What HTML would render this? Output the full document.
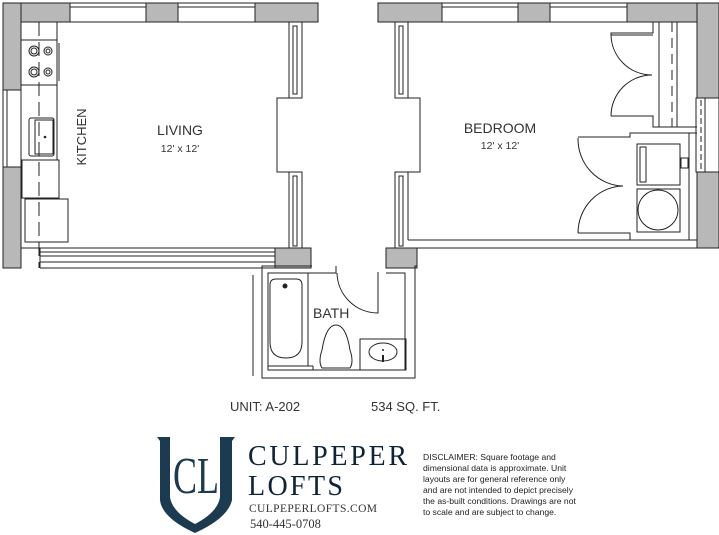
<!DOCTYPE html>
<html><head><meta charset="utf-8"><style>
html,body{margin:0;padding:0;background:#fff;}
svg{display:block;}
</style></head><body>
<svg width="719" height="535" viewBox="0 0 719 535" xmlns="http://www.w3.org/2000/svg" font-family="'Liberation Sans',sans-serif">
<g fill="#b8b8b8" stroke="#222" stroke-width="1">
<rect x="3" y="3" width="67" height="19"/>
<rect x="146" y="3" width="32" height="19"/>
<rect x="255" y="3" width="63" height="19"/>
<rect x="3" y="3" width="18" height="87"/>
<rect x="3" y="167" width="18" height="101"/>
<rect x="275" y="248" width="36" height="20"/>
<rect x="378" y="3" width="64" height="19"/>
<rect x="518" y="3" width="32" height="19"/>
<rect x="627" y="3" width="72" height="19"/>
<rect x="697" y="3" width="22" height="95"/>
<rect x="697" y="172" width="22" height="76"/>
<rect x="386" y="248" width="31" height="20"/>
</g>
<g fill="none" stroke="#222" stroke-width="1">
<rect x="70" y="3" width="76" height="19"/><line x1="70" y1="7" x2="146" y2="7"/>
<rect x="178" y="3" width="77" height="19"/><line x1="178" y1="7" x2="255" y2="7"/>
<rect x="442" y="3" width="76" height="19"/><line x1="442" y1="7" x2="518" y2="7"/>
<rect x="550" y="3" width="77" height="19"/><line x1="550" y1="7" x2="627" y2="7"/>
<rect x="3" y="90" width="18" height="77"/><line x1="7" y1="90" x2="7" y2="167"/>
<line x1="21" y1="22" x2="289" y2="22"/>
<line x1="21" y1="22" x2="21" y2="248"/>
<line x1="21" y1="248" x2="275" y2="248"/>
<line x1="40" y1="252" x2="275" y2="252"/><line x1="40" y1="256" x2="275" y2="256"/><line x1="40" y1="262" x2="275" y2="262"/>
<line x1="40" y1="268" x2="275" y2="268"/>
<line x1="40" y1="248" x2="40" y2="268"/>
<polyline points="289,22 289,98 277,98 277,172 289,172 289,248"/>
<polyline points="302,22 302,98 289,98"/><polyline points="302,248 302,172 289,172"/>
<rect x="293" y="26" width="4" height="68"/><rect x="293" y="176" width="4" height="70"/>
<line x1="57" y1="22" x2="57" y2="160"/>
<rect x="21" y="40" width="36" height="45"/>
<line x1="59" y1="43" x2="59" y2="81"/>
<circle cx="34" cy="51" r="5"/><circle cx="34" cy="51" r="3"/>
<circle cx="48" cy="51" r="4"/><circle cx="48" cy="51" r="2"/>
<circle cx="34" cy="72" r="5"/><circle cx="34" cy="72" r="3"/>
<circle cx="48" cy="72" r="4"/><circle cx="48" cy="72" r="2"/>
<rect x="29" y="118" width="25" height="38" rx="2"/><rect x="35" y="120" width="18" height="34"/>
<rect x="22" y="160" width="37" height="38"/>
<rect x="25" y="199" width="43" height="43"/>
<line x1="39" y1="22" x2="39" y2="268" stroke-dasharray="14,6"/>
<polyline points="408,22 408,98 420,98 420,172 408,172 408,240"/>
<polyline points="395,22 395,98 408,98"/><polyline points="395,248 395,172 408,172"/>
<rect x="399" y="26" width="4" height="68"/><rect x="399" y="176" width="4" height="70"/>
<line x1="408" y1="22" x2="697" y2="22"/>
<line x1="408" y1="240" x2="697" y2="240"/>
<line x1="417" y1="248" x2="697" y2="248"/>
<rect x="696" y="98" width="9" height="74"/><line x1="701" y1="100" x2="701" y2="170" stroke-dasharray="6,3"/>
<rect x="705" y="98" width="14" height="74" fill="#fff"/>
<polyline points="653,22 653,33 611,33 611,35 653,35"/>
<line x1="659" y1="22" x2="659" y2="127"/>
<path d="M611,35 A41,41 0 0 0 652,75 A41,41 0 0 0 611,116"/>
<polyline points="611,116 653,116 653,127 659,127"/>
<line x1="672" y1="22" x2="672" y2="127" stroke-dasharray="10,6"/>
<line x1="677" y1="22" x2="677" y2="127"/>
<polyline points="578,137 630,137 630,133 697,133"/>
<line x1="659" y1="127" x2="697" y2="127"/>
<path d="M578,138 A46,47 0 0 0 623,186 A46,47 0 0 0 578,233"/>
<polyline points="578,233 630,233 630,240"/>
<line x1="689" y1="133" x2="689" y2="240"/>
<rect x="637" y="144" width="43" height="41"/><rect x="640" y="147" width="6" height="35"/>
<rect x="681" y="158" width="7" height="10"/>
<rect x="637" y="189" width="43" height="43"/><circle cx="658" cy="210" r="20"/>
<polyline points="312,266 262,266 262,378 415,378 415,266 417,266"/>
<polyline points="336,266 336,273 268,273 268,370 405,370 405,273 386,273"/>
<line x1="253" y1="275" x2="253" y2="376"/>
<path d="M337,273 A41,41 0 0 0 378,313 L378,272"/>
<rect x="268" y="273" width="40" height="93"/>
<path d="M270,285 Q270,279 276,279 L296,279 Q302,279 302,285 L302,342 Q302,358 286,358 Q270,358 270,342 Z"/>
<line x1="308" y1="366" x2="313" y2="366"/><line x1="313" y1="366" x2="313" y2="370"/>
<path d="M322,368 Q318,362 322,350 Q326,325 336,325 Q346,325 350,350 Q354,362 350,368 Z"/>
<rect x="360" y="339" width="46" height="31"/>
<ellipse cx="383" cy="352" rx="14" ry="9"/>
</g>
<circle cx="45" cy="137" r="1.3" fill="#222"/>
<circle cx="285" cy="286" r="2.5" fill="#222"/>
<circle cx="383" cy="350" r="1" fill="#222"/><line x1="383" y1="355" x2="383" y2="362" stroke="#222" stroke-width="2"/>
<g fill="#333" font-size="14">
<text x="180" y="135" text-anchor="middle">LIVING</text>
<text x="180" y="152" text-anchor="middle" font-size="10.5">12' x 12'</text>
<text x="500" y="133" text-anchor="middle">BEDROOM</text>
<text x="500" y="149" text-anchor="middle" font-size="10.5">12' x 12'</text>
<text transform="translate(86,137) rotate(-90)" text-anchor="middle" font-size="13">KITCHEN</text>
<text x="313" y="318" font-size="14">BATH</text>
<text x="230" y="411" font-size="13">UNIT: A-202</text>
<text x="371" y="411" font-size="13">534 SQ. FT.</text>
</g>
<!-- logo -->
<path d="M157,437 L170,437 L170,497 Q172,512 195,524 Q218,512 220,497 L220,437 L235,437 L232,441 L232,500 Q228,518 195,533 Q162,518 160,500 L160,441 Z" fill="#1c3a50"/>
<text x="173" y="493" font-family="'Liberation Serif',serif" font-size="52" fill="#1c3a50" textLength="46" lengthAdjust="spacingAndGlyphs">CL</text>
<g font-family="'Liberation Serif',serif" fill="#0f2236">
<text x="248" y="465" font-size="28" textLength="159" lengthAdjust="spacing">CULPEPER</text>
<text x="248" y="495" font-size="28" textLength="95" lengthAdjust="spacing">LOFTS</text>
<text x="249" y="512" font-size="11.5" textLength="128" lengthAdjust="spacing" fill="#333">CULPEPERLOFTS.COM</text>
<text x="250" y="528" font-size="12.5" fill="#333">540-445-0708</text>
</g>
<g font-size="8.6" fill="#222">
<text x="423" y="460">DISCLAIMER: Square footage and</text>
<text x="423" y="471">dimensional data is approximate. Unit</text>
<text x="423" y="482">layouts are for general reference only</text>
<text x="423" y="493">and are not intended to depict precisely</text>
<text x="423" y="504">the as-built conditions. Drawings are not</text>
<text x="423" y="515">to scale and are subject to change.</text>
</g>
</svg>
</body></html>
